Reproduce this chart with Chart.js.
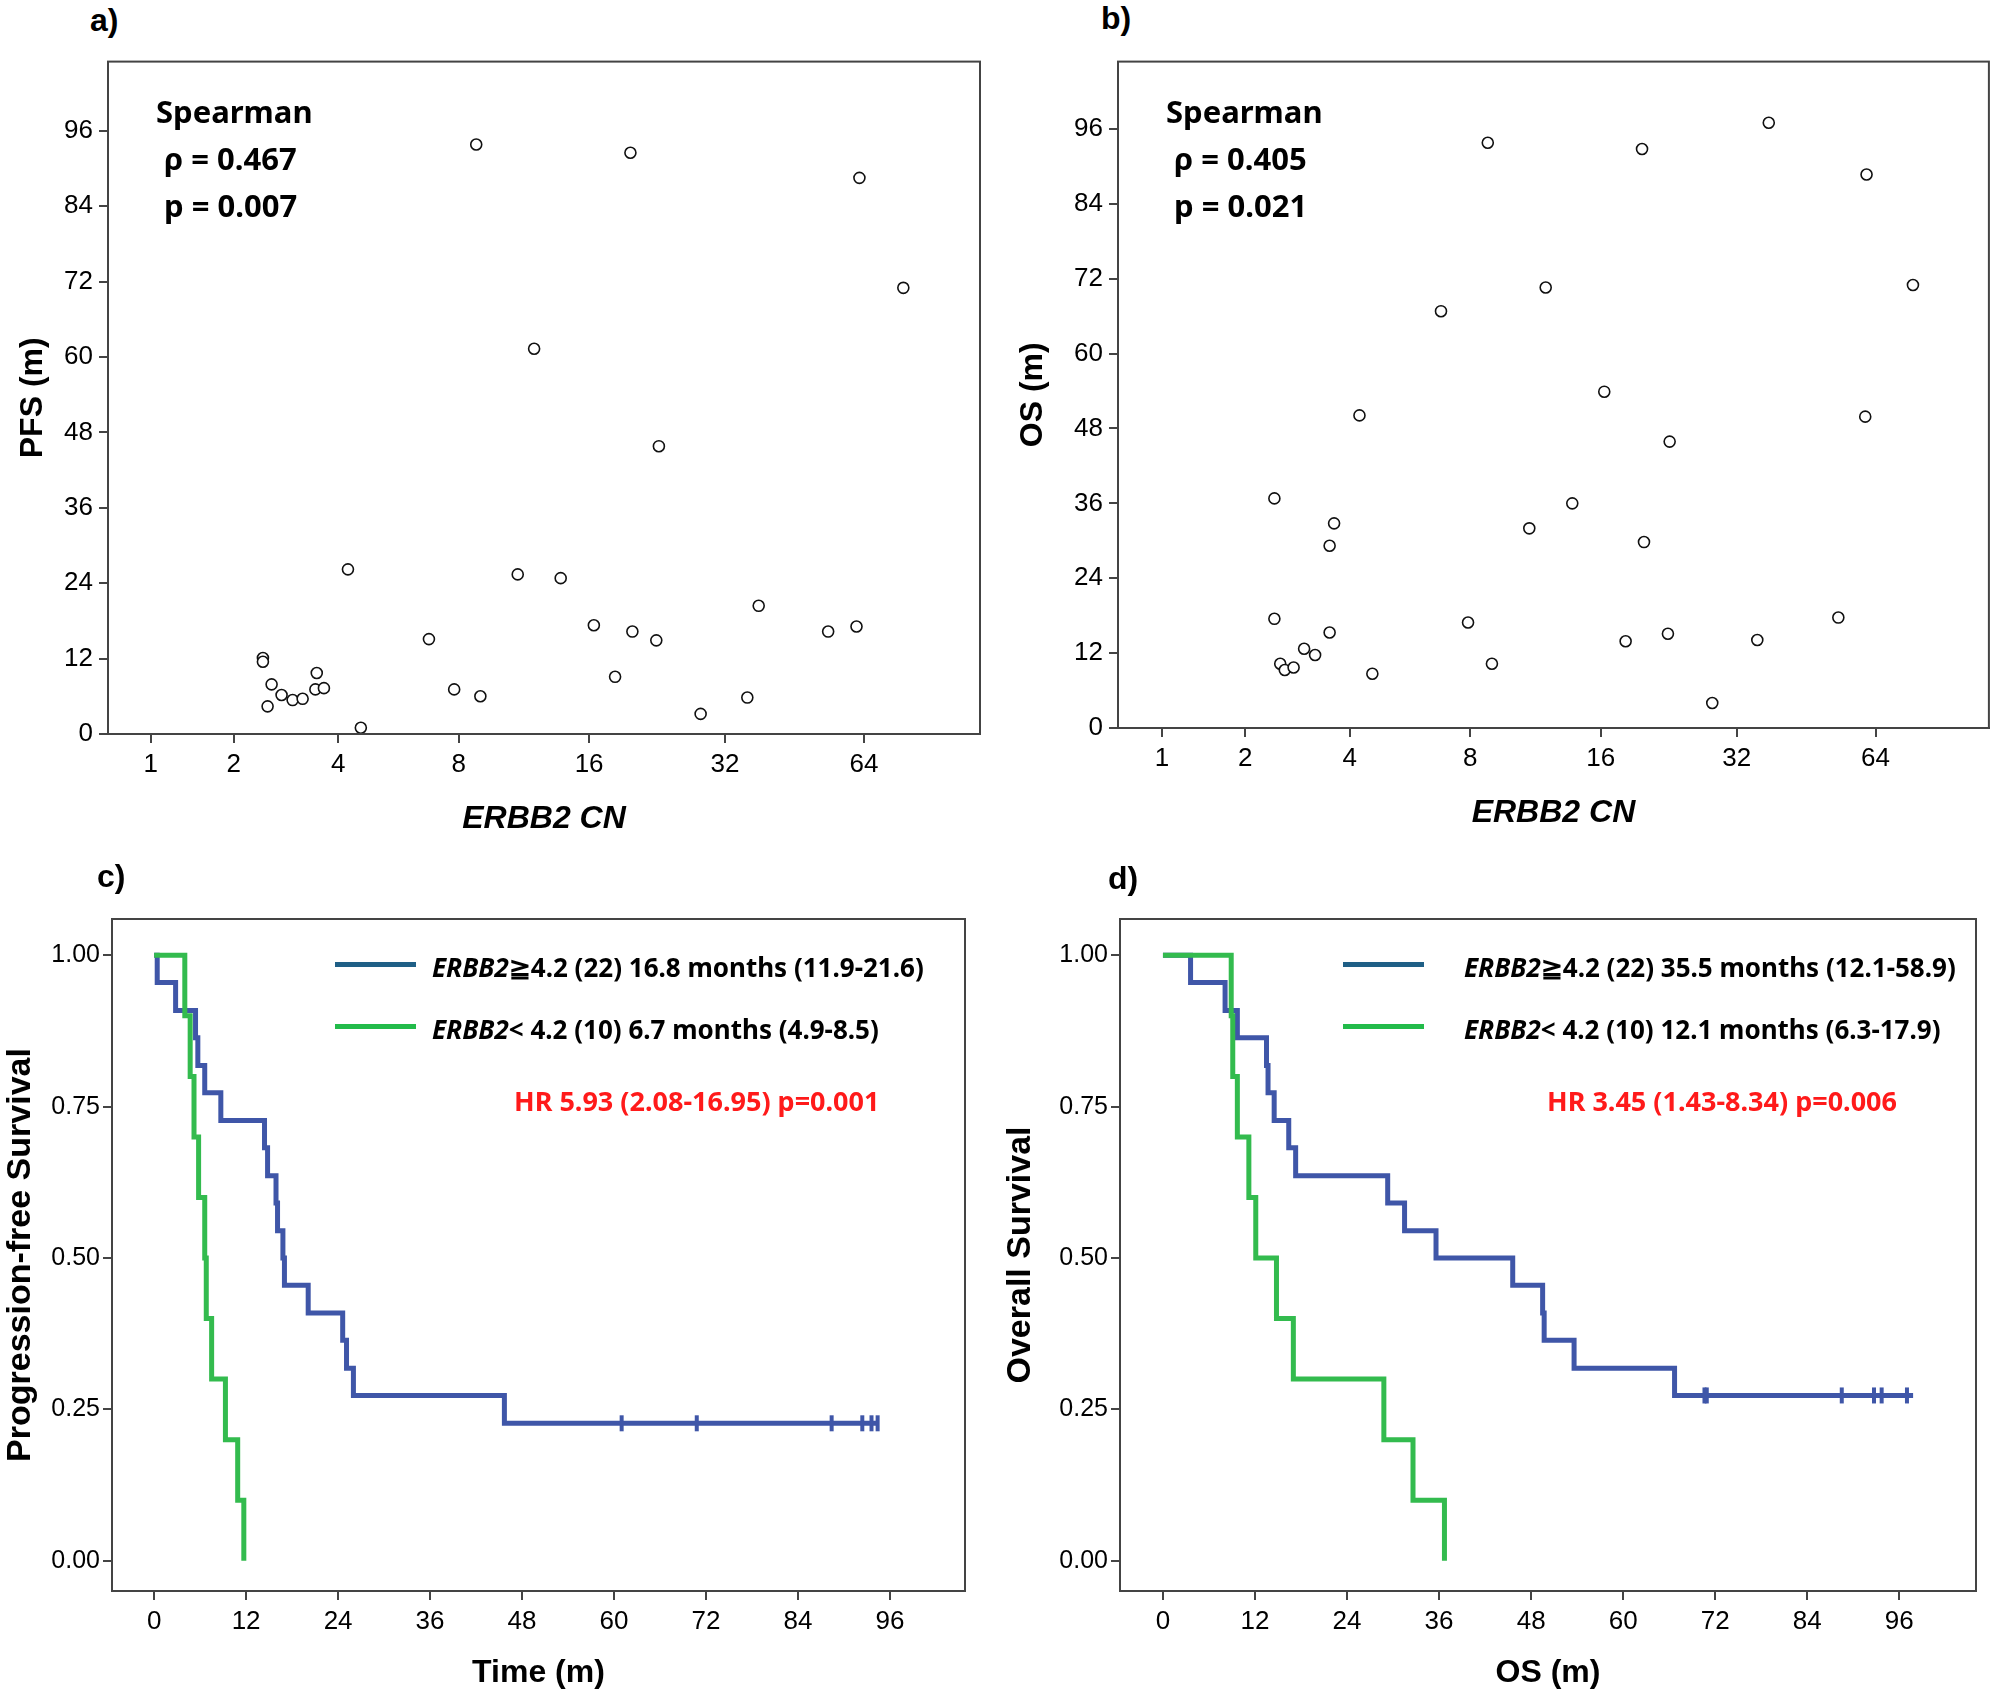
<!DOCTYPE html>
<html>
<head>
<meta charset="utf-8">
<script src="https://cdn.jsdelivr.net/npm/chart.js@4.4.1/dist/chart.umd.min.js"></script>
<style>
  body { margin: 0; background: #fff; width: 1996px; height: 1696px; position: relative; overflow: hidden; font-family: "Noto Sans", sans-serif; }
  canvas { position: absolute; }
  .txt { position: absolute; white-space: nowrap; font-weight: bold; color: #000; }
  .lab { font-family: "Liberation Sans", Arial, sans-serif; font-size: 32px; }
  .stat { font-size: 31px; line-height: 47px; }
  .leg { font-size: 26px; display: flex; align-items: center; }
  .leg i { font-style: italic; }
  .sw { position: absolute; height: 5px; }
  .hr { color: #ff1a1a; font-size: 27px; }
</style>
</head>
<body>
<canvas id="chartA"></canvas>
<canvas id="chartB"></canvas>
<canvas id="chartC"></canvas>
<canvas id="chartD"></canvas>

<div class="txt lab" style="left:90px;top:2px">a)</div>
<div class="txt lab" style="left:1101px;top:0px">b)</div>
<div class="txt lab" style="left:97px;top:858px">c)</div>
<div class="txt lab" style="left:1108px;top:860px">d)</div>

<div class="txt stat" style="left:156px;top:88px">Spearman<br>&nbsp;ρ = 0.467<br>&nbsp;p = 0.007</div>
<div class="txt stat" style="left:1166px;top:88px">Spearman<br>&nbsp;ρ = 0.405<br>&nbsp;p = 0.021</div>

<div class="sw" style="left:335px;top:962px;width:81px;background:#1f5f86"></div>
<div class="sw" style="left:335px;top:1024px;width:81px;background:#22bb4a"></div>
<div class="txt leg" style="left:432px;top:949px"><i>ERBB2</i>≧4.2 (22) 16.8 months (11.9-21.6)</div>
<div class="txt leg" style="left:432px;top:1011px"><i>ERBB2</i>&lt; 4.2 (10) 6.7 months (4.9-8.5)</div>
<div class="txt hr" style="left:514px;top:1082px">HR 5.93 (2.08-16.95) p=0.001</div>

<div class="sw" style="left:1343px;top:962px;width:81px;background:#1f5f86"></div>
<div class="sw" style="left:1343px;top:1024px;width:81px;background:#22bb4a"></div>
<div class="txt leg" style="left:1464px;top:949px"><i>ERBB2</i>≧4.2 (22) 35.5 months (12.1-58.9)</div>
<div class="txt leg" style="left:1464px;top:1011px"><i>ERBB2</i>&lt; 4.2 (10) 12.1 months (6.3-17.9)</div>
<div class="txt hr" style="left:1547px;top:1082px">HR 3.45 (1.43-8.34) p=0.006</div>

<script>
// ---- data ----
const cnTicks = [1, 2, 4, 8, 16, 32, 64];
const monthTicks = [0, 12, 24, 36, 48, 60, 72, 84, 96];
const survTicks = [0, 0.25, 0.5, 0.75, 1];

// a) ERBB2 CN vs PFS
const pfsCN = [8.8, 19.8, 62.6, 77.8, 12.0, 22.9, 4.24, 11.0, 13.8, 37.9, 6.78, 16.4, 20.0, 22.6, 53.6, 61.7,
  18.3, 7.8, 9.0, 28.3, 35.8, 4.58, 2.46, 2.46, 2.61, 2.54, 2.79, 3.0, 3.2, 3.5, 3.47, 3.66];
const pfsMonths = [93.8, 92.5, 88.5, 71, 61.3, 45.8, 26.2, 25.4, 24.8, 20.4, 15.1, 17.3, 16.3, 14.9, 16.3, 17.1,
  9.1, 7.1, 6.0, 3.2, 5.8, 1.0, 12.1, 11.5, 7.9, 4.4, 6.2, 5.4, 5.6, 9.7, 7.1, 7.3];

// b) ERBB2 CN vs OS
const osCN = [8.8, 19.8, 37.6, 61.2, 77, 12.0, 6.8, 16.3, 4.24, 60.8, 22.8, 2.46, 13.8, 3.63, 11.0, 3.53,
  20.0, 2.46, 7.9, 53.2, 3.53, 22.6, 18.2, 35.5, 3.0, 3.22, 2.56, 2.64, 2.8, 9.0, 4.58, 28.3];
const osMonths = [93.8, 92.8, 97, 88.7, 71, 70.6, 66.8, 53.9, 50.1, 49.9, 45.9, 36.8, 36.0, 32.8, 32.0, 29.2,
  29.8, 17.5, 16.9, 17.7, 15.3, 15.1, 13.9, 14.1, 12.7, 11.7, 10.3, 9.3, 9.7, 10.3, 8.7, 4.0];

// c) PFS Kaplan-Meier
const pfsHighTime = [0, 0.4, 2.8, 5.4, 5.7, 6.6, 8.7, 14.4, 14.8, 15.9, 16.1, 16.8, 17.0, 20.1, 24.6, 25.1, 26.0, 45.7, 94.4];
const pfsHighSurv = [1, 0.955, 0.909, 0.864, 0.818, 0.773, 0.727, 0.682, 0.636, 0.591, 0.545, 0.5, 0.455, 0.409, 0.364, 0.318, 0.273, 0.227, 0.227];
const pfsHighCensor = [61.0, 70.8, 88.4, 92.4, 93.6, 94.4];
const pfsLowTime = [0, 4.0, 4.7, 5.2, 5.8, 6.6, 6.8, 7.5, 9.3, 10.9, 11.7];
const pfsLowSurv = [1, 0.9, 0.8, 0.7, 0.6, 0.5, 0.4, 0.3, 0.2, 0.1, 0];

// d) OS Kaplan-Meier
const osHighTime = [0, 3.6, 8.1, 9.7, 13.5, 13.7, 14.5, 16.4, 17.3, 29.3, 31.5, 35.6, 45.6, 49.5, 49.7, 53.6, 66.7, 97.8];
const osHighSurv = [1, 0.955, 0.909, 0.864, 0.818, 0.773, 0.727, 0.682, 0.636, 0.591, 0.545, 0.5, 0.455, 0.409, 0.364, 0.318, 0.273, 0.273];
const osHighCensor = [70.6, 70.9, 88.5, 92.7, 93.7, 97.0];
const osLowTime = [0, 8.9, 9.1, 9.7, 11.2, 12.1, 14.8, 17.0, 28.8, 32.6, 36.7];
const osLowSurv = [1, 0.9, 0.8, 0.7, 0.6, 0.5, 0.4, 0.3, 0.2, 0.1, 0];

Chart.defaults.color = '#000';
Chart.defaults.animation = false;

const tickFont = { family: '"Liberation Sans Narrow", "Liberation Sans", Arial, sans-serif', size: 26 };
const titleFont = { family: '"Liberation Sans", Arial, sans-serif', size: 32, weight: 'bold' };

const boxPlugin = {
  id: 'box',
  afterDraw(chart) {
    const a = chart.chartArea, ctx = chart.ctx;
    ctx.save();
    ctx.strokeStyle = '#444';
    ctx.lineWidth = 2;
    ctx.strokeRect(a.left, a.top, a.right - a.left, a.bottom - a.top);
    ctx.restore();
  }
};

function place(id, L, T, W, H) {
  const c = document.getElementById(id);
  c.style.left = L + 'px'; c.style.top = T + 'px';
  c.style.width = W + 'px'; c.style.height = H + 'px';
  c.width = W; c.height = H;
  return c;
}

function axisBase(fixed, values, labelFn, title, italic, tsize, tpad) {
  return {
    type: 'linear',
    afterBuildTicks: s => { s.ticks = values.map(v => ({ value: v })); },
    afterFit: s => { if (s.isHorizontal()) s.height = fixed; else s.width = fixed; },
    ticks: { font: tickFont, autoSkip: false, maxRotation: 0, padding: 6, callback: labelFn },
    grid: { drawOnChartArea: false, drawTicks: true, tickLength: 9, color: '#444', lineWidth: 2 },
    border: { display: true, color: '#444', width: 2 },
    title: { display: true, text: title, font: Object.assign({}, titleFont, { size: tsize || 32 }, italic ? { style: 'italic' } : {}),
      padding: tpad !== undefined ? { top: tpad, bottom: tpad } : { top: 14, bottom: 4 } }
  };
}

function scatterChart(id, L, T, W, H, pad, yW, xH, xmin, xmax, ymax, cn, months, ytitle) {
  const pts = cn.map((v, i) => ({ x: Math.log2(v + 1), y: months[i] }));
  const cnPos = cnTicks.map(v => Math.log2(v + 1));
  const xAxis = axisBase(xH, cnPos, (v, i) => cnTicks[i], 'ERBB2 CN', true);
  xAxis.min = xmin; xAxis.max = xmax;
  const yAxis = axisBase(yW, monthTicks, v => v, ytitle, false);
  yAxis.min = 0; yAxis.max = ymax;
  new Chart(place(id, L, T, W, H), {
    type: 'scatter',
    data: { datasets: [{ data: pts, pointRadius: 5.5, pointBorderWidth: 1.6, borderColor: '#111', backgroundColor: '#fff' }] },
    options: {
      responsive: false,
      layout: { padding: pad },
      plugins: { legend: { display: false }, tooltip: { enabled: false } },
      scales: { x: xAxis, y: yAxis }
    },
    plugins: [boxPlugin]
  });
}

function kmChart(id, L, T, W, H, pad, yW, xH, xmin, xmax, hiT, hiS, hiC, loT, loS, xtitle, ytitle) {
  const hiLast = hiS[hiS.length - 1];
  const xAxis = axisBase(xH, monthTicks, v => v, xtitle, false);
  xAxis.min = xmin; xAxis.max = xmax;
  const yAxis = axisBase(yW, survTicks, v => v.toFixed(2), ytitle, false, 34, 0);
  yAxis.ticks.font = Object.assign({}, tickFont, { size: 25 });
  yAxis.ticks.padding = 3;
  yAxis.min = -0.05; yAxis.max = 1.06;
  new Chart(place(id, L, T, W, H), {
    type: 'line',
    data: {
      datasets: [
        { data: loT.map((t, i) => ({ x: t, y: loS[i] })), stepped: 'before', borderColor: '#33bb4e', borderWidth: 5, pointRadius: 0, fill: false },
        { data: hiT.map((t, i) => ({ x: t, y: hiS[i] })), stepped: 'before', borderColor: '#3f56a8', borderWidth: 5, pointRadius: 0, fill: false },
        { data: hiC.map(t => ({ x: t, y: hiLast })), showLine: false, pointStyle: 'line', rotation: 90, pointRadius: 8, pointBorderWidth: 4, borderColor: '#3f56a8' }
      ]
    },
    options: {
      responsive: false,
      layout: { padding: pad },
      plugins: { legend: { display: false }, tooltip: { enabled: false } },
      scales: { x: xAxis, y: yAxis }
    },
    plugins: [boxPlugin]
  });
}

scatterChart('chartA', 0, 40, 1000, 802, { top: 20, right: 20 }, 108, 108, 0.70, 6.84, 107, pfsCN, pfsMonths, 'PFS (m)');
scatterChart('chartB', 1000, 40, 996, 796, { top: 13, right: 3 }, 118, 108, 0.69, 6.82, 106.8, osCN, osMonths, 'OS (m)');
kmChart('chartC', 0, 880, 1000, 816, { top: 39, right: 35 }, 112, 105, -5.5, 105.8,
  pfsHighTime, pfsHighSurv, pfsHighCensor, pfsLowTime, pfsLowSurv, 'Time (m)', 'Progression-free Survival');
kmChart('chartD', 1000, 880, 996, 816, { top: 39, right: 20 }, 120, 105, -5.6, 106,
  osHighTime, osHighSurv, osHighCensor, osLowTime, osLowSurv, 'OS (m)', 'Overall Survival');
</script>
</body>
</html>
